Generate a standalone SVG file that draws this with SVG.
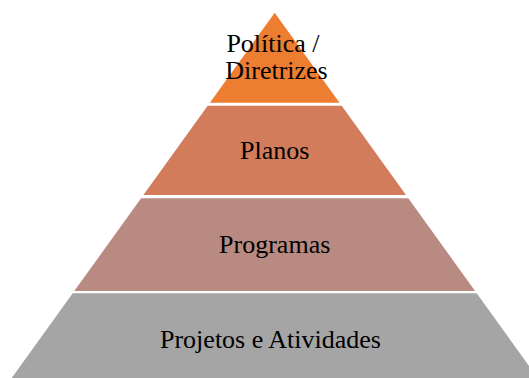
<svg xmlns="http://www.w3.org/2000/svg" width="529" height="378" viewBox="0 0 529 378">
  <style>
    .lbl { font-family: "Liberation Serif", "Times New Roman", serif; font-size: 26px; fill: #000000; text-anchor: middle; }
  </style>
  <rect x="0" y="0" width="529" height="378" fill="#FFFFFF"/>
  <g id="node-politica">
    <polygon points="274.7,12.7 339.5,102.7 209.9,102.7" fill="#ED7D31"/>
    <text class="lbl" x="273" y="52">Política /</text>
    <text class="lbl" x="276.5" y="78.5">Diretrizes</text>
  </g>
  <g id="node-planos">
    <polygon points="207.7,105.7 341.7,105.7 406,195 143.4,195" fill="#D27C5C"/>
    <text class="lbl" x="274.7" y="158.5">Planos</text>
  </g>
  <g id="node-programas">
    <polygon points="141.1,198.3 408.3,198.3 475.1,291 74.3,291" fill="#B98A81"/>
    <text class="lbl" x="274.7" y="252.7">Programas</text>
  </g>
  <g id="node-projetos">
    <polygon points="72.7,293.3 476.7,293.3 537.7,378 11.7,378" fill="#A5A5A5"/>
    <text class="lbl" x="270.5" y="348.3">Projetos e Atividades</text>
  </g>
  <g id="connectors"/>
</svg>
